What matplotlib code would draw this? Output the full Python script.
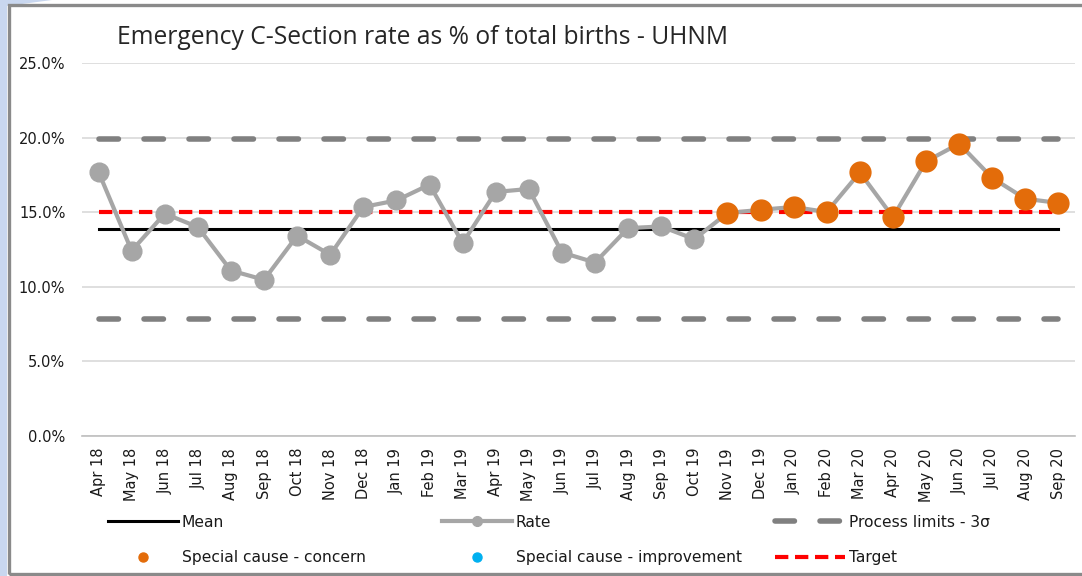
import matplotlib
matplotlib.use('Agg')
import matplotlib.pyplot as plt
from matplotlib.lines import Line2D
from matplotlib.patches import Rectangle, Polygon
import numpy as np

# data
months = ['Apr 18', 'May 18', 'Jun 18', 'Jul 18', 'Aug 18', 'Sep 18', 'Oct 18', 'Nov 18',
          'Dec 18', 'Jan 19', 'Feb 19', 'Mar 19', 'Apr 19', 'May 19', 'Jun 19', 'Jul 19',
          'Aug 19', 'Sep 19', 'Oct 19', 'Nov 19', 'Dec 19', 'Jan 20', 'Feb 20', 'Mar 20',
          'Apr 20', 'May 20', 'Jun 20', 'Jul 20', 'Aug 20', 'Sep 20']
rate = [17.70, 12.41, 14.90, 14.00, 11.08, 10.46, 13.42, 12.14, 15.35, 15.79,
        16.85, 12.93, 16.36, 16.56, 12.29, 11.62, 13.93, 14.04, 13.19, 14.94,
        15.16, 15.35, 15.01, 17.67, 14.67, 18.41, 19.60, 17.30, 15.90, 15.62]
concern = [False] * 19 + [True] * 11
mean_val = 13.87
ucl = 19.92
lcl = 7.83
target = 15.0
yticks = [0, 5, 10, 15, 20, 25]

W, H = 1082, 576
tick_fs = 10.5
leg_fs = 11.2
gray_dash = '#808080'
orange = '#e36c0a'

def fx(px):
    return px / W

def fy(py):
    return 1 - py / H

fig = plt.figure(figsize=(W / 100, H / 100), dpi=100)
fig.patch.set_facecolor('white')

# slide background showing at the left and the chart frame
fig.patches.append(Polygon([(fx(0), fy(0)), (fx(52), fy(0)), (fx(7), fy(6)), (fx(7), fy(576)),
                            (fx(0), fy(576))], closed=True, transform=fig.transFigure,
                           facecolor='#c9d7ef', edgecolor='none'))
fig.patches.append(Rectangle((fx(8.5), fy(573.5)), fx(1090) - fx(8.5), fy(4.5) - fy(573.5),
                             transform=fig.transFigure, fill=False, edgecolor='#8a8a8a', lw=2.4))

ax = fig.add_axes([fx(82), fy(435.5), fx(1075) - fx(82), fy(63.3) - fy(435.5)])
x = np.arange(len(months))

ax.set_ylim(0, 25)
ax.set_xlim(-0.5, len(months) - 0.5)
ax.set_yticks(yticks)
ax.set_yticklabels(['%.1f%%' % v for v in yticks])
ax.set_xticks(x)
ax.set_xticklabels(months, rotation=90)
ax.tick_params(axis='y', length=0, pad=12, labelsize=tick_fs, labelcolor='#1a1a1a')
ax.tick_params(axis='x', length=0, pad=9, labelsize=tick_fs, labelcolor='#1a1a1a')
ax.grid(axis='y', color='#d9d9d9', lw=1.2)
ax.set_axisbelow(True)
for s in ['top', 'right', 'left']:
    ax.spines[s].set_visible(False)
ax.spines['bottom'].set_color('#bfbfbf')
ax.spines['bottom'].set_linewidth(1.2)

n = len(months)
ax.plot(x, [mean_val] * n, color='black', lw=2.2, zorder=3)
ax.plot(x, [ucl] * n, color=gray_dash, lw=4, ls=(0, (3.5, 4.6)), dash_capstyle='round', zorder=3)
ax.plot(x, [lcl] * n, color=gray_dash, lw=4, ls=(0, (3.5, 4.6)), dash_capstyle='round', zorder=3)
ax.plot(x, [target] * n, color='#ff0000', lw=3, ls=(0, (3.2, 1.6)), zorder=3)
ax.plot(x, rate, color='#a6a6a6', lw=3, marker='o', ms=13.5, mec='#a6a6a6', zorder=4)
xc = [xi for xi, c in zip(x, concern) if c]
yc = [r for r, c in zip(rate, concern) if c]
ax.plot(xc, yc, ls='none', marker='o', ms=15, color=orange, mec=orange, zorder=5)

fig.text(fx(117), fy(38), 'Emergency C-Section rate as % of total births - UHNM',
         family='Open Sans', fontsize=17.7, color='#262626', ha='left', va='center')

# legend, three columns of two rows
h_mean = Line2D([], [], color='black', lw=2.2)
h_rate = Line2D([], [], color='#a6a6a6', lw=3, marker='o', ms=7)
h_lim = Line2D([], [], color=gray_dash, lw=4, ls=(0, (3.5, 4.6)), dash_capstyle='round')
h_conc = Line2D([], [], ls='none', marker='o', ms=6.5, color=orange)
h_imp = Line2D([], [], ls='none', marker='o', ms=6.5, color='#00b0f0')
h_tgt = Line2D([], [], color='#ff0000', lw=3, ls=(0, (3.2, 1.6)))

cols = [([h_mean, h_conc], ['Mean', 'Special cause - concern'], 108),
        ([h_rate, h_imp], ['Rate', 'Special cause - improvement'], 442),
        ([h_lim, h_tgt], ['Process limits - 3σ', 'Target'], 775)]
for hs, labs, px in cols:
    leg = fig.legend(hs, labs, loc='center left', bbox_to_anchor=(fx(px), fy(540)),
                     frameon=False, fontsize=leg_fs, handlelength=4.5, handletextpad=0.25,
                     borderpad=0, borderaxespad=0, labelspacing=1.33, numpoints=1)
    for t in leg.get_texts():
        t.set_color('#1a1a1a')

fig.savefig('out.png', dpi=100, facecolor=fig.get_facecolor())
